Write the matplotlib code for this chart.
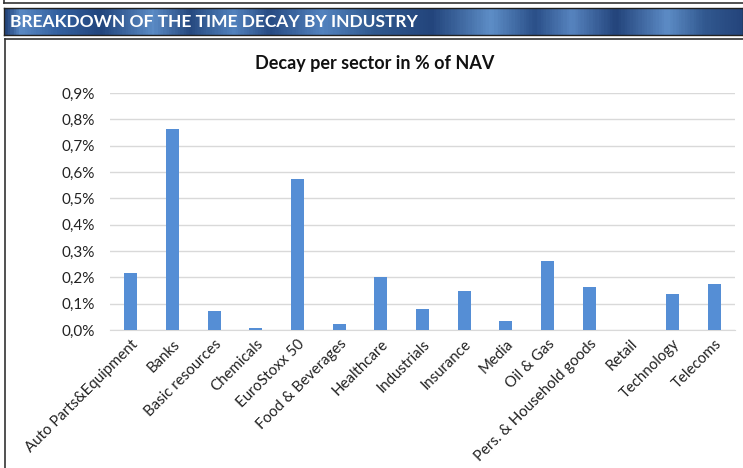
import matplotlib.pyplot as plt
import numpy as np
from matplotlib.colors import LinearSegmentedColormap
from matplotlib.ticker import FuncFormatter

# Data (decay in % of NAV)
sectors = ['Auto Parts&Equipment', 'Banks', 'Basic resources', 'Chemicals',
           'EuroStoxx 50', 'Food & Beverages', 'Healthcare', 'Industrials',
           'Insurance', 'Media', 'Oil & Gas', 'Pers. & Household goods',
           'Retail', 'Technology', 'Telecoms']
decay = [0.215, 0.764, 0.072, 0.006, 0.575, 0.022, 0.200, 0.081,
         0.147, 0.034, 0.263, 0.162, 0.001, 0.136, 0.174]
y_ticks = [0.0, 0.1, 0.2, 0.3, 0.4, 0.5, 0.6, 0.7, 0.8, 0.9]

plt.rcParams['font.family'] = ['Lato', 'DejaVu Sans']

W, H = 743, 468
fig = plt.figure(figsize=(W / 100, H / 100), dpi=100)

# top box remnant
fig.add_artist(plt.Line2D([4 / W, 1], [1 - 2.5 / H, 1 - 2.5 / H], color='#333333', lw=1.2))
fig.add_artist(plt.Line2D([4 / W, 4 / W], [1 - 2.5 / H, 1], color='#333333', lw=1.2))

# header banner with metallic blue stripes
hdr = fig.add_axes([4 / W, 1 - 35 / H, 1 - 4 / W, 27 / H])
stops = [(0.0, '#24457c'), (0.02, '#5a89c4'), (0.07, '#3461a0'), (0.13, '#22457d'),
         (0.2, '#5b8bc5'), (0.25, '#26497f'), (0.31, '#5282be'), (0.36, '#274b83'),
         (0.43, '#5383bf'), (0.5, '#30598f'), (0.58, '#23457c'), (0.66, '#5e8ec7'),
         (0.72, '#2a4f88'), (0.77, '#5784bf'), (0.83, '#23447b'), (0.9, '#5d8cc6'),
         (0.95, '#325990'), (1.0, '#24457c')]
cmap = LinearSegmentedColormap.from_list('hdr', stops)
hdr.imshow(np.linspace(0, 1, 600).reshape(1, -1), cmap=cmap, aspect='auto',
           extent=[0, 1, 0, 1])
hdr.set_xlim(0, 1)
hdr.set_ylim(0, 1)
hdr.set_xticks([])
hdr.set_yticks([])
for s in hdr.spines.values():
    s.set_color('#222222')
    s.set_linewidth(1)
hdr.text(6 / (W - 4), 0.47, 'BREAKDOWN OF THE TIME DECAY BY INDUSTRY', color='white',
         fontsize=12.5, fontweight='bold', va='center', ha='left')

# chart box border
fig.add_artist(plt.Line2D([4.5 / W, 1], [1 - 38.5 / H, 1 - 38.5 / H], color='#333333', lw=1.2))
fig.add_artist(plt.Line2D([4.5 / W, 4.5 / W], [0, 1 - 38.5 / H], color='#333333', lw=1.2))

ax = fig.add_axes([110 / W, 1 - 330 / H, 625 / W, 237 / H])
x = np.arange(len(sectors))
ax.bar(x, decay, width=0.31, color='#558ed5', zorder=3)
ax.set_xlim(-0.5, len(sectors) - 0.5)
ax.set_ylim(0, 0.9)
ax.set_yticks(y_ticks)
ax.yaxis.set_major_formatter(FuncFormatter(lambda v, p: f'{v:.1f}%'.replace('.', ',')))
ax.grid(axis='y', color='#d9d9d9', lw=1, zorder=0)
for s in ['top', 'right', 'left']:
    ax.spines[s].set_visible(False)
ax.spines['bottom'].set_color('#d9d9d9')
ax.tick_params(axis='both', length=0, labelsize=11, colors='#222222')
ax.tick_params(axis='y', pad=11)
ax.set_xticks(x)
ax.set_xticklabels(sectors, rotation=45, ha='right', rotation_mode='anchor')
ax.tick_params(axis='x', pad=5)
for lbl in ax.get_xticklabels():
    lbl.set_fontsize(10.8)

fig.text(375 / W, 1 - 64 / H, 'Decay per sector in % of NAV', fontsize=13,
         fontweight='bold', ha='center', va='center', color='#111111')

fig.savefig('out.png', dpi=100)
